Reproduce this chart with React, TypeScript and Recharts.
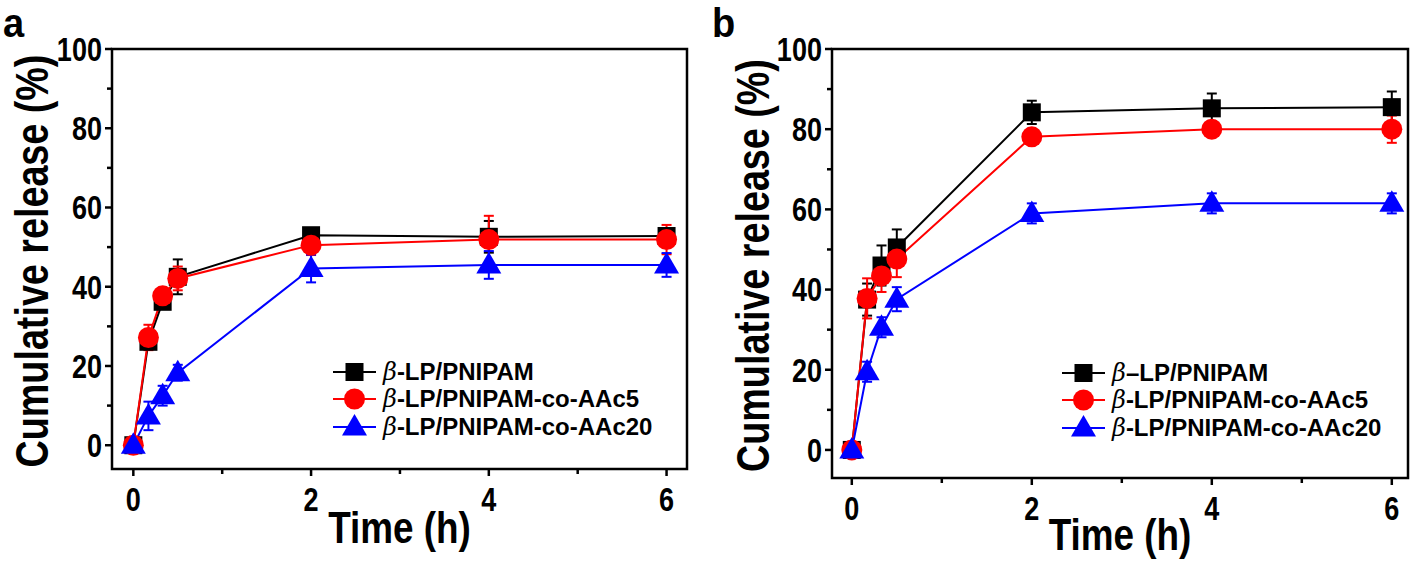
import { ErrorBar, Label, Legend, Line, LineChart, ReferenceArea, XAxis, YAxis } from 'recharts'

// sampling times (h)
const times = [0, 0.17, 0.33, 0.5, 2, 4, 6]
const xTicks = [0, 1, 2, 3, 4, 5, 6]
const yTicks = [0, 10, 20, 30, 40, 50, 60, 70, 80, 90, 100]

const namesA = ['β-LP/PNIPAM', 'β-LP/PNIPAM-co-AAc5', 'β-LP/PNIPAM-co-AAc20']
const namesB = ['β–LP/PNIPAM', 'β-LP/PNIPAM-co-AAc5', 'β-LP/PNIPAM-co-AAc20']

// panel a
const aPnipam = [0, 26.1, 36.2, 42.5, 53, 52.6, 52.8]
const aPnipamErr = [0.8, 1.5, 1.5, 4.4, 1.2, 4, 2]
const aAac5 = [0, 27.2, 37.7, 42.1, 50.5, 51.9, 51.9]
const aAac5Err = [1, 3.2, 2, 3, 2.5, 6, 3.7]
const aAac20 = [0, 7.4, 12.5, 18.3, 44.6, 45.5, 45.5]
const aAac20Err = [0.5, 3.6, 2.5, 2, 3.5, 3.5, 3]

// panel b
const bPnipam = [0, 37.5, 46, 50.5, 84.2, 85.2, 85.5]
const bPnipamErr = [1, 4, 5, 4.5, 2.9, 3.7, 3.9]
const bAac5 = [0, 37.8, 43.4, 47.6, 78.1, 80, 80]
const bAac5Err = [1, 5, 4, 4.5, 1.5, 2, 3.4]
const bAac20 = [0, 19.5, 30.6, 37.6, 59, 61.5, 61.5]
const bAac20Err = [0.5, 2.5, 2.5, 3, 2.5, 2.5, 2.5]

const FONT = "'Liberation Sans', Arial, sans-serif"
const COLORS = ['#000000', '#ff0000', '#0000ff']
const SHAPES = ['square', 'circle', 'triangle']
const SQUEEZE = 0.82

function buildRows(s1: number[], e1: number[], s2: number[], e2: number[], s3: number[], e3: number[]) {
  return times.map((t, i) => ({
    t,
    s1: s1[i],
    e1: e1[i],
    s2: s2[i],
    e2: e2[i],
    s3: s3[i],
    e3: e3[i],
  }))
}

const rowsA = buildRows(aPnipam, aPnipamErr, aAac5, aAac5Err, aAac20, aAac20Err)
const rowsB = buildRows(bPnipam, bPnipamErr, bAac5, bAac5Err, bAac20, bAac20Err)

function Marker({ cx, cy, shape, color }: { cx: number; cy: number; shape: string; color: string }) {
  if (cx == null || cy == null) return null
  if (shape === 'square')
    return <rect x={cx - 9} y={cy - 9} width={18} height={18} fill={color} />
  if (shape === 'circle') return <circle cx={cx} cy={cy} r={10.5} fill={color} />
  return (
    <polygon
      points={`${cx},${cy - 13} ${cx - 12.5},${cy + 8.5} ${cx + 12.5},${cy + 8.5}`}
      fill={color}
    />
  )
}

// eslint-disable-next-line @typescript-eslint/no-explicit-any
function YTick({ x, y, payload }: any) {
  const major = payload.value % 20 === 0
  return (
    <g>
      <line x1={x} x2={x - (major ? 7 : 5)} y1={y} y2={y} stroke='#000' strokeWidth={2.5} />
      {major && (
        <text
          transform={`translate(${x - 10},${y}) scale(${SQUEEZE},1)`}
          textAnchor='end'
          dy='0.36em'
          fontSize={33}
          fontWeight='bold'
          fontFamily={FONT}
          fill='#000'
        >
          {payload.value}
        </text>
      )}
    </g>
  )
}

// eslint-disable-next-line @typescript-eslint/no-explicit-any
function XTick({ x, y, payload }: any) {
  const major = payload.value % 2 === 0
  return (
    <g>
      <line x1={x} x2={x} y1={y} y2={y + (major ? 7 : 5)} stroke='#000' strokeWidth={2.5} />
      {major && (
        <text
          transform={`translate(${x},${y + 42}) scale(${SQUEEZE},1)`}
          textAnchor='middle'
          fontSize={33}
          fontWeight='bold'
          fontFamily={FONT}
          fill='#000'
        >
          {payload.value}
        </text>
      )}
    </g>
  )
}

function LegendBox({ names }: { names: string[] }) {
  return (
    <div style={{ fontFamily: FONT, fontWeight: 'bold', fontSize: 24, color: '#000' }}>
      {names.map((n, i) => (
        <div key={n} style={{ display: 'flex', alignItems: 'center', height: 27.5 }}>
          <svg width={44} height={28} style={{ marginRight: 6 }}>
            <line x1={0} x2={43} y1={14} y2={14} stroke={COLORS[i]} strokeWidth={2} />
            <Marker cx={21.5} cy={14} shape={SHAPES[i]} color={COLORS[i]} />
          </svg>
          <span style={{ whiteSpace: 'nowrap', lineHeight: '28px' }}>
            <i style={{ fontWeight: 'normal', fontFamily: "'DejaVu Serif', serif" }}>{n[0]}</i>
            {n.slice(1)}
          </span>
        </div>
      ))}
    </div>
  )
}

type PanelProps = {
  rows: ReturnType<typeof buildRows>
  names: string[]
  left: number
  yAxisWidth: number
  rightMargin: number
  xAxisHeight: number
  xDomain: [number, number]
  yDomain: [number, number]
  legendLeft: number
  legendTop: number
  yLabelX: number
  titleOffset: number
  letter: string
}

function Panel(p: PanelProps) {
  return (
    <div style={{ position: 'absolute', left: p.left, top: 0 }}>
      <LineChart
        width={709}
        height={562}
        data={p.rows}
        margin={{ top: 49, right: p.rightMargin, left: 0, bottom: 0 }}
      >
        <XAxis
          type='number'
          dataKey='t'
          domain={p.xDomain}
          ticks={xTicks}
          allowDataOverflow
          height={p.xAxisHeight}
          axisLine={false}
          tickLine={false}
          tickSize={0}
          tickMargin={0}
          tick={(tp) => <XTick {...tp} />}
          interval={0}
        >
          <Label
            content={({ viewBox }) => {
              // eslint-disable-next-line @typescript-eslint/no-explicit-any
              const vb = viewBox as any
              return (
                <text
                  transform={`translate(${vb.x + vb.width / 2},${vb.y + p.titleOffset}) scale(${SQUEEZE},1)`}
                  textAnchor='middle'
                  fontSize={45}
                  fontWeight='bold'
                  fontFamily={FONT}
                  fill='#000'
                >
                  Time (h)
                </text>
              )
            }}
          />
        </XAxis>
        <YAxis
          type='number'
          domain={p.yDomain}
          ticks={yTicks}
          allowDataOverflow
          width={p.yAxisWidth}
          axisLine={false}
          tickLine={false}
          tickSize={0}
          tickMargin={0}
          tick={(tp) => <YTick {...tp} />}
          interval={0}
        >
          <Label
            content={({ viewBox }) => {
              // eslint-disable-next-line @typescript-eslint/no-explicit-any
              const vb = viewBox as any
              return (
                <text
                  transform={`translate(${p.yLabelX},${vb.y + vb.height / 2 + 2}) rotate(-90) scale(${SQUEEZE},1)`}
                  textAnchor='middle'
                  fontSize={46}
                  fontWeight='bold'
                  fontFamily={FONT}
                  fill='#000'
                >
                  Cumulative release (%)
                </text>
              )
            }}
          />
        </YAxis>
        <ReferenceArea
          x1={p.xDomain[0]}
          x2={p.xDomain[1]}
          y1={p.yDomain[0]}
          y2={p.yDomain[1]}
          fill='none'
          fillOpacity={0}
          stroke='#000'
          strokeWidth={2.5}
          ifOverflow='visible'
        />
        {['s1', 's2', 's3'].map((k, i) => (
          <Line
            key={k}
            dataKey={k}
            name={p.names[i]}
            type='linear'
            stroke={COLORS[i]}
            strokeWidth={2}
            isAnimationActive={false}
            dot={(dp) => (
              <Marker key={`${k}-${dp.index}`} cx={dp.cx} cy={dp.cy} shape={SHAPES[i]} color={COLORS[i]} />
            )}
            activeDot={false}
          >
            <ErrorBar dataKey={`e${i + 1}`} width={5} strokeWidth={2} stroke={COLORS[i]} direction='y' />
          </Line>
        ))}
        <Legend
          layout='vertical'
          align='center'
          verticalAlign='middle'
          wrapperStyle={{ left: p.legendLeft, top: p.legendTop, width: 'auto', height: 'auto' }}
          content={() => <LegendBox names={p.names} />}
        />
      </LineChart>
      <div
        style={{
          position: 'absolute',
          left: 3,
          top: 0,
          fontFamily: FONT,
          fontWeight: 'bold',
          fontSize: 40,
          lineHeight: '46px',
          transform: 'scaleX(0.95)',
          transformOrigin: 'left top',
        }}
      >
        {p.letter}
      </div>
    </div>
  )
}

export default function App() {
  return (
    <div style={{ position: 'absolute', left: 0, top: 0, width: 1418, height: 562, background: '#fff' }}>
      <Panel
        rows={rowsA}
        names={namesA}
        left={0}
        yAxisWidth={112}
        rightMargin={22}
        xAxisHeight={93}
        xDomain={[-0.24, 6.23]}
        yDomain={[-6, 100]}
        legendLeft={333}
        legendTop={358}
        yLabelX={48}
        titleOffset={74}
        letter='a'
      />
      <Panel
        rows={rowsB}
        names={namesB}
        left={709}
        yAxisWidth={123}
        rightMargin={10}
        xAxisHeight={84}
        xDomain={[-0.22, 6.18]}
        yDomain={[-7, 100]}
        legendLeft={353}
        legendTop={359}
        yLabelX={60}
        titleOffset={72}
        letter='b'
      />
    </div>
  )
}
